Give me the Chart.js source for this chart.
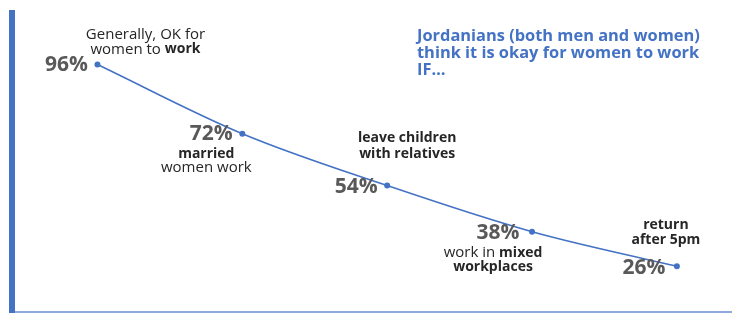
<!DOCTYPE html>
<html>
<head>
<meta charset="utf-8">
<script src="https://cdn.jsdelivr.net/npm/chart.js@4/dist/chart.umd.min.js"></script>
<style>
html,body{margin:0;padding:0;background:#fff;overflow:hidden;}
#wrap{width:735px;height:316px;position:relative;}
</style>
</head>
<body>
<div id="wrap"><canvas id="c"></canvas></div>
<script>
// ---- data ----
const categories = ["Generally OK", "married women work", "leave children with relatives", "work in mixed workplaces", "return after 5pm"];
const values = [96, 72, 54, 38, 26];
const valueLabels = ["96%", "72%", "54%", "38%", "26%"];
// annotation lines: each line is a list of [text, bold]
const annotations = [
  [[["Generally, OK for", false]], [["women to ", false], ["work", true]]],
  [[["married", true]], [["women work", false]]],
  [[["leave children", true]], [["with relatives", true]]],
  [[["work in ", false], ["mixed", true]], [["workplaces", true]]],
  [[["return", true]], [["after 5pm", true]]]
];
const titleLines = ["Jordanians (both men and women)", "think it is okay for women to work", "IF…"];

// ---- styling / placement (offsets relative to each point) ----
const valueOffsets = [[-31, 1], [-31, 0], [-31, 1], [-34, 1], [-33, 2]];
const annOffsets = [[48, -30], [-36, 20], [20, -48], [-39, 21], [-11, -41]];
const annSpacing = [15, 14, 16, 14, 15];
const FONT = "'Open Sans', 'Noto Sans', sans-serif";
const fontFor = b => b ? 'bold 14px ' + FONT : '15px ' + FONT;

const labelPlugin = {
  id: 'labels',
  afterDatasetsDraw(chart) {
    const ctx = chart.ctx;
    const meta = chart.getDatasetMeta(0);
    ctx.save();
    ctx.textBaseline = 'middle';
    meta.data.forEach((pt, i) => {
      ctx.font = "bold 21px " + FONT;
      ctx.fillStyle = '#595959';
      ctx.textAlign = 'center';
      ctx.fillText(valueLabels[i], pt.x + valueOffsets[i][0], pt.y + valueOffsets[i][1]);
      const lines = annotations[i];
      const cx = pt.x + annOffsets[i][0];
      let y = pt.y + annOffsets[i][1];
      ctx.fillStyle = '#262626';
      ctx.textAlign = 'left';
      lines.forEach(line => {
        let w = 0;
        line.forEach(([t, b]) => { ctx.font = fontFor(b); w += ctx.measureText(t).width; });
        let x = cx - w / 2;
        line.forEach(([t, b]) => {
          ctx.font = fontFor(b);
          ctx.fillText(t, x, y);
          x += ctx.measureText(t).width;
        });
        y += annSpacing[i];
      });
    });
    ctx.font = "bold 16.4px " + FONT;
    ctx.fillStyle = '#4472C4';
    ctx.textAlign = 'left';
    titleLines.forEach((t, k) => ctx.fillText(t, 417, 36 + k * 17));
    ctx.restore();
  }
};

new Chart(document.getElementById('c'), {
  type: 'line',
  data: {
    datasets: [{
      label: 'share',
      data: values.map((v, i) => ({ x: i, y: v })),
      borderColor: '#4472C4',
      backgroundColor: '#4472C4',
      borderWidth: 1.6,
      pointRadius: 2.2,
      pointHoverRadius: 2.2,
      cubicInterpolationMode: 'monotone'
    }]
  },
  options: {
    responsive: true,
    maintainAspectRatio: false,
    animation: false,
    events: [],
    layout: { padding: { left: 12, right: 0, top: 13, bottom: 0 } },
    plugins: { legend: { display: false }, tooltip: { enabled: false } },
    scales: {
      x: {
        type: 'linear',
        min: -0.59,
        max: 4.375,
        grid: { display: false, drawTicks: false, tickLength: 0 },
        ticks: { display: false, padding: 0 },
        border: { display: true, color: '#8FAADC', width: 2 }
      },
      y: {
        min: 10.07,
        max: 113.85,
        grid: { display: false, drawTicks: false, tickLength: 0 },
        ticks: { display: false, padding: 0 },
        border: { display: true, color: '#4472C4', width: 6 }
      }
    }
  },
  plugins: [labelPlugin]
});
</script>
</body>
</html>
